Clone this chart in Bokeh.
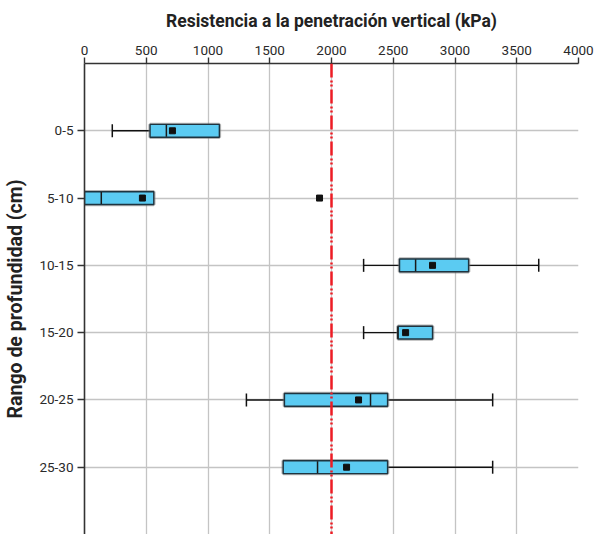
import math

from bokeh.plotting import figure
from bokeh.models import FactorRange, Range1d, Span, FixedTicker, ColumnDataSource
from bokeh.embed import file_html
from bokeh.resources import INLINE

# Penetration resistance (kPa) by depth range (cm)
depths = ["0-5", "5-10", "10-15", "15-20", "20-25", "25-30"]
whisker_low = [225, 0, 2260, 2260, 1311, 1609]
q1 = [531, 0, 2551, 2538, 1619, 1609]
median = [663, 136, 2681, 2538, 2316, 1887]
q3 = [1092, 561, 3110, 2818, 2454, 2454]
whisker_high = [1092, 561, 3678, 2818, 3305, 3305]
mean = [712, 469, 2818, 2600, 2219, 2122]
outlier_depth = ["5-10"]
outlier_value = [1903]
threshold = 2000
x_ticks = [0, 500, 1000, 1500, 2000, 2500, 3000, 3500, 4000]

FONT = "Roboto"
BOX_H = 0.19

p = figure(
    width=596, height=534,
    x_range=Range1d(0, 4000),
    y_range=FactorRange(factors=depths[::-1], range_padding=0.5,
                        range_padding_units="absolute"),
    x_axis_location="above",
    output_backend="svg", toolbar_location=None,
    min_border_left=84, min_border_right=18,
    min_border_top=63, min_border_bottom=0,
)
p.outline_line_color = None
p.background_fill_color = "white"

# axes
p.xaxis.ticker = FixedTicker(ticks=x_ticks)
p.xaxis.axis_label = "Resistencia a la penetración vertical (kPa)"
p.yaxis.axis_label = "Rango de profundidad (cm)"
for ax in (p.xaxis[0], p.yaxis[0]):
    ax.axis_label_text_font = FONT
    ax.axis_label_text_font_style = "bold"
    ax.axis_label_text_color = "#222222"
    ax.major_label_text_font = FONT
    ax.major_label_text_font_size = "13.5px"
    ax.major_label_text_color = "#2a2a2a"
    ax.axis_line_color = "#333333"
    ax.axis_line_width = 1.6
    ax.major_tick_line_color = "#333333"
    ax.major_tick_line_width = 1.4
    ax.major_tick_in = 0
    ax.minor_tick_line_color = None
p.xaxis.axis_label_text_font_size = "17.5px"
p.yaxis.axis_label_text_font_size = "19.5px"
p.xaxis.major_tick_out = 6
p.xaxis.major_label_standoff = 3
p.xaxis.axis_label_standoff = 12
p.yaxis.major_tick_out = 7
p.yaxis.major_label_standoff = 4
p.yaxis.axis_label_standoff = 9

p.xgrid.grid_line_color = "#c4c4c4"
p.xgrid.grid_line_width = 1.3
p.ygrid.grid_line_color = "#c4c4c4"
p.ygrid.grid_line_width = 1.3

# reference line at 2000 kPa
p.add_layout(Span(location=threshold, dimension="height", line_color="#ee1c25",
                  line_width=2.5, line_dash="14 3 2 2 2 3"))

src = ColumnDataSource(dict(depth=depths, low=whisker_low, q1=q1, med=median,
                            q3=q3, high=whisker_high, mean=mean))

# whiskers (only where they extend beyond the box)
lo_idx = [i for i in range(len(depths)) if whisker_low[i] < q1[i]]
hi_idx = [i for i in range(len(depths)) if whisker_high[i] > q3[i]]
lo = ColumnDataSource(dict(depth=[depths[i] for i in lo_idx],
                           x0=[whisker_low[i] for i in lo_idx],
                           x1=[q1[i] for i in lo_idx]))
hi = ColumnDataSource(dict(depth=[depths[i] for i in hi_idx],
                           x0=[q3[i] for i in hi_idx],
                           x1=[whisker_high[i] for i in hi_idx]))
for s, cap in ((lo, "x0"), (hi, "x1")):
    p.segment(x0="x0", y0="depth", x1="x1", y1="depth", source=s,
              line_color="#111111", line_width=1.4)
    p.scatter(x=cap, y="depth", source=s, marker="dash", angle=math.pi / 2,
              size=13, line_color="#111111", line_width=1.5)

# boxes with a soft grey shadow
p.hbar(y="depth", left="q1", right="q3", height=BOX_H, source=src,
       fill_color=None, line_color="#777777", line_alpha=0.55, line_width=3.5)
p.hbar(y="depth", left="q1", right="q3", height=BOX_H, source=src,
       fill_color="#5bcbf2", line_color="#1e3440", line_width=1.4)

# medians
p.scatter(x="med", y="depth", source=src, marker="dash", angle=math.pi / 2,
          size=12, line_color="#1a1a1a", line_width=1.5)

# means and outliers
p.scatter(x="mean", y="depth", source=src, marker="square", size=6,
          fill_color="#111111", line_color="#111111")
p.scatter(x=outlier_value, y=outlier_depth, marker="square", size=6,
          fill_color="#111111", line_color="#111111")

open("out.html", "w").write(file_html(p, INLINE))
